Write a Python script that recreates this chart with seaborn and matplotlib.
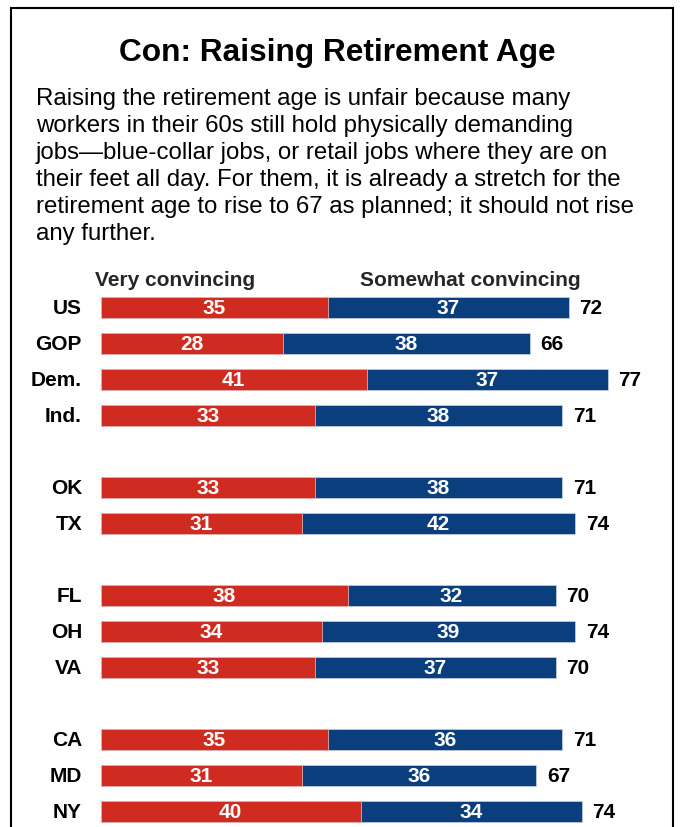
import matplotlib
matplotlib.use("Agg")
import matplotlib.pyplot as plt
from matplotlib.patches import Rectangle
import numpy as np
import pandas as pd
import seaborn as sns

# Survey data: share finding the argument convincing
row_groups = [["US", "GOP", "Dem.", "Ind."], ["OK", "TX"], ["FL", "OH", "VA"], ["CA", "MD", "NY"]]
very = [35, 28, 41, 33, 33, 31, 38, 34, 33, 35, 31, 40]
somewhat = [37, 38, 37, 38, 38, 42, 32, 39, 37, 36, 36, 34]
totals = [72, 66, 77, 71, 71, 74, 70, 74, 70, 71, 67, 74]

title = "Con: Raising Retirement Age"
body_lines = [
    "Raising the retirement age is unfair because many",
    "workers in their 60s still hold physically demanding",
    "jobs\u2014blue-collar jobs, or retail jobs where they are on",
    "their feet all day. For them, it is already a stretch for the",
    "retirement age to rise to 67 as planned; it should not rise",
    "any further.",
]
legend_labels = ["Very convincing", "Somewhat convincing"]

RED = "#cf2b20"
BLUE = "#0b3e7c"

sns.set_theme(style="white")
plt.rcParams["font.family"] = ["Liberation Sans", "DejaVu Sans"]

W, H = 680, 828
fig = plt.figure(figsize=(W / 100, H / 100), dpi=100)
fig.patch.set_facecolor("white")

# row positions with one blank row between groups
labels, pos = [], []
p = 0
for g in row_groups:
    for lab in g:
        labels.append(lab)
        pos.append(p)
        p += 1
    p += 1

df = pd.DataFrame({"label": labels, "pos": pos, "very": very,
                   "somewhat": somewhat, "total": totals})
df["stack"] = df["very"] + df["somewhat"]

px_per_unit = 6.5
x0_px = 100.5
row_px = 36.0
row0_px = 308.5
ax_top_px = row0_px - row_px / 2
ax = fig.add_axes([x0_px / W, 0, 85 * px_per_unit / W, (H - ax_top_px) / H])

sns.barplot(data=df, x="stack", y="pos", orient="h", native_scale=True,
            color=BLUE, saturation=1, width=0.61, ax=ax, errorbar=None,
            edgecolor="#c9d3e6", linewidth=0.5)
sns.barplot(data=df, x="very", y="pos", orient="h", native_scale=True,
            color=RED, saturation=1, width=0.61, ax=ax, errorbar=None,
            edgecolor="#f0c4c0", linewidth=0.5)

ax.set_xlim(0, 85)
ax.set_ylim((H - row0_px) / row_px, -0.5)
ax.set_axis_off()

lab_font = dict(family=["Liberation Sans", "DejaVu Sans"], fontweight="bold", fontsize=15)
label_x = -(x0_px - 82) / px_per_unit
for _, r in df.iterrows():
    y = r["pos"]
    ax.text(label_x, y, r["label"], ha="right", va="center", color="black", **lab_font)
    ax.text(r["very"] / 2, y, f"{r['very']}", ha="center", va="center", color="white", **lab_font)
    ax.text(r["very"] + r["somewhat"] / 2, y, f"{r['somewhat']}", ha="center", va="center",
            color="white", **lab_font)
    ax.text(r["stack"] + 1.7, y, f"{r['total']}", ha="left", va="center", color="black",
            clip_on=False, **lab_font)

# column headers
fig.text(175.5 / W, 1 - 280.5 / H, legend_labels[0], ha="center", va="center", **lab_font)
fig.text(470.5 / W, 1 - 280.5 / H, legend_labels[1], ha="center", va="center", **lab_font)

# title and explanatory text
fig.text(337 / W, 1 - 61 / H, title, ha="center", va="baseline",
         fontsize=22.8, fontweight="bold", color="black")
for i, line in enumerate(body_lines):
    fig.text(36 / W, 1 - (105 + 27 * i) / H, line, ha="left", va="baseline",
             fontsize=17.3, color="black")

# outer frame, open at the bottom edge
fig.add_artist(Rectangle((11 / W, -0.05), (673 - 11) / W, 1.05 - 9 / H,
                         transform=fig.transFigure, fill=False,
                         edgecolor="black", linewidth=1.5))

fig.savefig("out.png", dpi=100, facecolor="white")
